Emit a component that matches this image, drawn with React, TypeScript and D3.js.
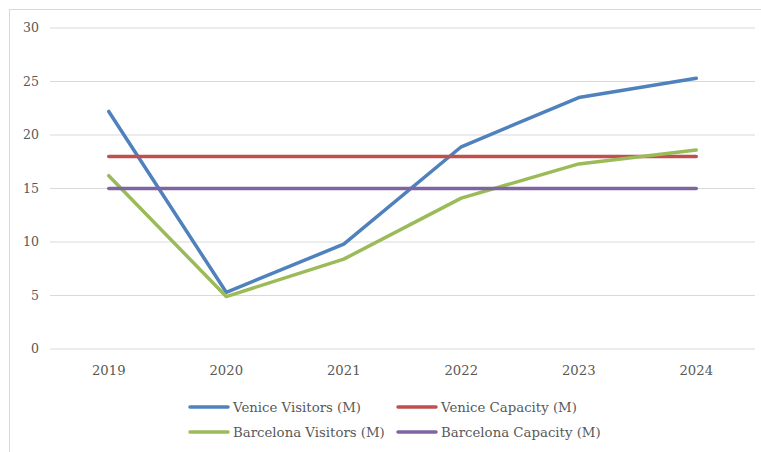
import React from "react";
import * as d3 from "d3";

const years = ["2019", "2020", "2021", "2022", "2023", "2024"];
const veniceVisitors = [22.2, 5.3, 9.8, 18.9, 23.5, 25.3];
const veniceCapacity = [18, 18, 18, 18, 18, 18];
const barcelonaVisitors = [16.2, 4.9, 8.4, 14.1, 17.3, 18.6];
const barcelonaCapacity = [15, 15, 15, 15, 15, 15];
const yTicks = [0, 5, 10, 15, 20, 25, 30];

const series = [
  { name: "Venice Visitors (M)", values: veniceVisitors, color: "#4F81BD" },
  { name: "Venice Capacity (M)", values: veniceCapacity, color: "#C0504D" },
  { name: "Barcelona Visitors (M)", values: barcelonaVisitors, color: "#9BBB59" },
  { name: "Barcelona Capacity (M)", values: barcelonaCapacity, color: "#8064A2" },
];

const FONT = "'DejaVu Serif', serif";

export default function App() {
  const W = 761, H = 452;
  const x = d3.scaleBand().domain(years).range([50, 755]);
  const y = d3.scaleLinear().domain([0, 30]).range([349, 28]);
  const line = d3
    .line<number>()
    .x((_, i) => (x(years[i]) as number) + x.bandwidth() / 2)
    .y((d) => y(d));

  const legendPos = [
    { lx: 190, ly: 407 },
    { lx: 398, ly: 407 },
    { lx: 190, ly: 432 },
    { lx: 398, ly: 432 },
  ];

  return (
    <svg width={W} height={H} style={{ position: "absolute", left: 0, top: 0 }}>
      <rect x={0} y={0} width={W} height={H} fill="#fff" />
      <rect x={9.5} y={9.5} width={W + 10} height={H + 10} fill="none" stroke="#d9d9d9" />
      {yTicks.map((t) => (
        <g key={t}>
          <line x1={50} x2={755} y1={y(t)} y2={y(t)} stroke="#d9d9d9" strokeWidth={1} />
          <text x={39} y={y(t)} dy="0.35em" textAnchor="end" fontFamily={FONT} fontSize={12.5} fill="#595959">
            {t}
          </text>
        </g>
      ))}
      {years.map((yr) => (
        <text
          key={yr}
          x={(x(yr) as number) + x.bandwidth() / 2}
          y={370}
          dy="0.35em"
          textAnchor="middle"
          fontFamily={FONT}
          fontSize={13.2}
          fill="#595959"
        >
          {yr}
        </text>
      ))}
      {series.map((s) => (
        <path
          key={s.name}
          d={line(s.values) || ""}
          fill="none"
          stroke={s.color}
          strokeWidth={3.5}
          strokeLinejoin="round"
          strokeLinecap="round"
        />
      ))}
      {series.map((s, i) => (
        <g key={s.name}>
          <line
            x1={legendPos[i].lx}
            x2={legendPos[i].lx + 38}
            y1={legendPos[i].ly}
            y2={legendPos[i].ly}
            stroke={s.color}
            strokeWidth={3.5}
            strokeLinecap="round"
          />
          <text
            x={legendPos[i].lx + 43}
            y={legendPos[i].ly}
            dy="0.35em"
            fontFamily={FONT}
            fontSize={13.3}
            fill="#595959"
          >
            {s.name}
          </text>
        </g>
      ))}
    </svg>
  );
}
